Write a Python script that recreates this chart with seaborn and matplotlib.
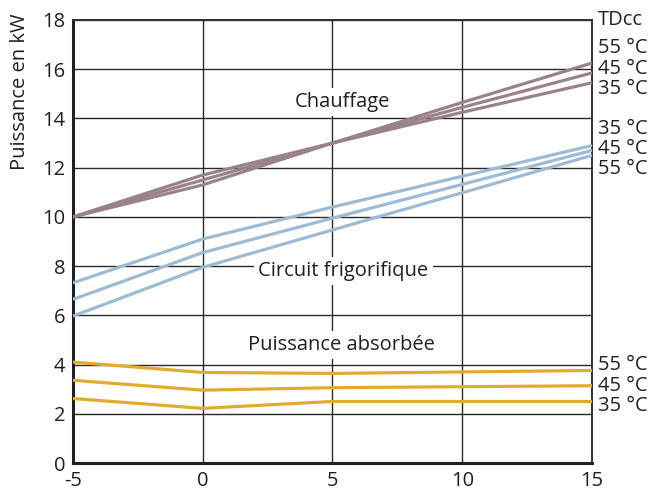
import matplotlib
matplotlib.use("Agg")
import matplotlib.pyplot as plt
import matplotlib.transforms as mtransforms
import numpy as np
import pandas as pd
import seaborn as sns

# Outdoor temperature (°C) along the x axis
temps = [-5, 0, 5, 10, 15]
tdcc = ["35 °C", "45 °C", "55 °C"]

# Heating output (kW) per flow temperature
chauffage = {
    "35 °C": [10.0, 11.3, 13.0, 14.25, 15.45],
    "45 °C": [10.0, 11.5, 13.0, 14.45, 15.85],
    "55 °C": [10.0, 11.7, 13.0, 14.65, 16.25],
}
# Refrigerant circuit output (kW)
frigo = {
    "35 °C": [7.32, 9.1, 10.4, 11.65, 12.9],
    "45 °C": [6.65, 8.55, 9.95, 11.32, 12.7],
    "55 °C": [5.97, 7.95, 9.47, 10.98, 12.5],
}
# Absorbed power (kW)
absorbee = {
    "35 °C": [2.62, 2.22, 2.5, 2.5, 2.5],
    "45 °C": [3.36, 2.96, 3.06, 3.1, 3.14],
    "55 °C": [4.1, 3.68, 3.64, 3.7, 3.76],
}

groups = ["Chauffage", "Circuit frigorifique", "Puissance absorbée"]
group_data = [chauffage, frigo, absorbee]
group_colors = ["#9a8289", "#9dbbd4", "#e1ab2d"]
# Order of the TDcc labels down the right margin for each group
right_orders = [["55 °C", "45 °C", "35 °C"],
                ["35 °C", "45 °C", "55 °C"],
                ["55 °C", "45 °C", "35 °C"]]

rows = []
for g, data in zip(groups, group_data):
    for t in tdcc:
        for x, v in zip(temps, data[t]):
            rows.append({"groupe": g, "TDcc": t, "T": x, "P": v})
df = pd.DataFrame(rows)

sns.set_style("white")
plt.rcParams["font.family"] = ["Open Sans", "DejaVu Sans"]
ink = "#231f20"
fs = 14.5

fig = plt.figure(figsize=(6.54, 4.90), dpi=100)
ax = fig.add_axes([0.1116, 0.0551, 0.7936, 0.9041])

for g, col in zip(groups, group_colors):
    sub = df[df["groupe"] == g]
    sns.lineplot(data=sub, x="T", y="P", units="TDcc", estimator=None,
                 color=col, linewidth=2.3, ax=ax, zorder=3,
                 solid_capstyle="butt")

ax.set_xlim(-5, 15)
ax.set_ylim(0, 18)
ax.set_xticks(temps)
ax.set_yticks(np.arange(0, 19, 2))
ax.set_xticklabels(["-5", "0", "5", "10", "15"])
ax.set_xlabel("")
ax.set_ylabel("")
ax.tick_params(axis="both", length=0, labelsize=fs, colors=ink, pad=5.5)

ax.grid(True, color="#2a2a2a", linewidth=1.0, zorder=1)
ax.set_axisbelow(True)
for side in ["left", "bottom"]:
    ax.spines[side].set_linewidth(2.2)
    ax.spines[side].set_color(ink)
for side in ["top", "right"]:
    ax.spines[side].set_linewidth(1.4)
    ax.spines[side].set_color("#333333")

# Group names with white boxes that interrupt the grid
label_pos = {"Chauffage": (5.38, 14.67),
             "Circuit frigorifique": (5.42, 7.8),
             "Puissance absorbée": (5.35, 4.8)}
for g in groups:
    x, y = label_pos[g]
    ax.text(x, y, g, ha="center", va="center", fontsize=fs, color=ink,
            zorder=2, bbox=dict(facecolor="white", edgecolor="none", pad=3))

# Flow temperature labels in the right margin
trans = mtransforms.blended_transform_factory(ax.transAxes, ax.transData)
ax.text(1.012, 18.0, "TDcc", transform=trans, ha="left", va="center",
        fontsize=fs, color=ink, clip_on=False)
label_rows = [[16.87, 16.02, 15.2], [13.58, 12.76, 11.93], [3.98, 3.13, 2.32]]
for order, ys in zip(right_orders, label_rows):
    for t, y in zip(order, ys):
        ax.text(1.012, y, t, transform=trans, ha="left", va="center",
                fontsize=fs, color=ink, clip_on=False)

ax.text(-0.102, 1.015, "Puissance en kW", transform=ax.transAxes,
        rotation=90, ha="center", va="top", fontsize=fs, color=ink)

fig.savefig("out.png", dpi=100, facecolor="white")
